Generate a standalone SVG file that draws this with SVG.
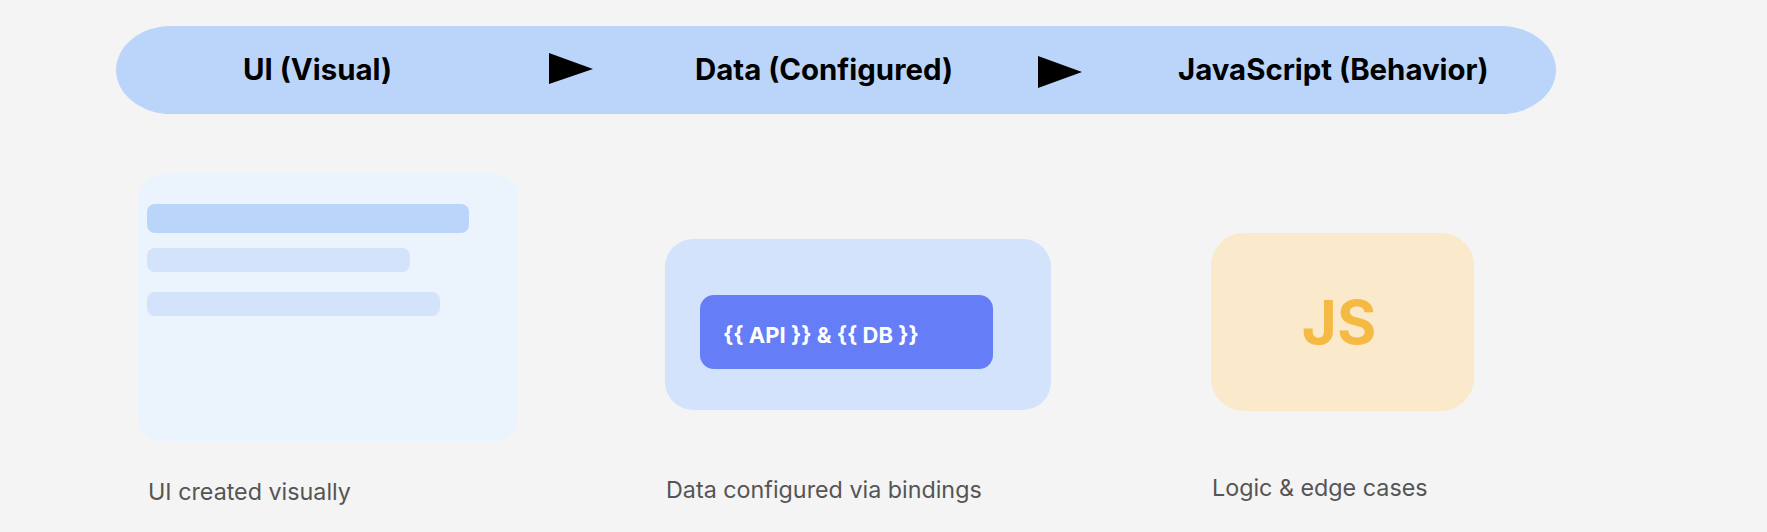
<svg xmlns="http://www.w3.org/2000/svg" width="1767" height="532" viewBox="0 0 1767 532">
<style>
.h{font-family:Inter,"Liberation Sans",Arial,sans-serif;font-weight:700;font-size:29.4px;fill:#000}
.cap{font-family:Inter,"Liberation Sans",Arial,sans-serif;font-size:23.3px;fill:#555}
.arrow{fill:#000}
</style>
<rect width="1767" height="532" fill="#F4F4F4"/>
<g id="banner">
<rect x="116" y="26" width="1440" height="88" rx="55" ry="44" fill="#BBD5FA"/>
<text class="h" x="243" y="80">UI (Visual)</text>
<text class="h" x="695" y="80">Data (Configured)</text>
<text class="h" x="1178" y="80">JavaScript (Behavior)</text>
</g>
<g id="connectors">
<polygon class="arrow" points="549,53 593,69 549,84"/>
<polygon class="arrow" points="1038,56 1082,72 1038,88"/>
</g>
<g id="ui-node">
<rect x="138" y="174" width="380" height="267" rx="24" fill="#EBF3FD"/>
<rect x="147" y="204" width="322" height="29" rx="8" fill="#BBD5FA"/>
<rect x="147" y="248" width="263" height="24" rx="8" fill="#D3E3FB"/>
<rect x="147" y="292" width="293" height="24" rx="8" fill="#D3E3FB"/>
<text class="cap" x="148" y="500">UI created visually</text>
</g>
<g id="data-node">
<rect x="665" y="239" width="386" height="171" rx="28" fill="#D3E3FB"/>
<rect x="700" y="295" width="293" height="74" rx="14" fill="#657EF7"/>
<text x="723" y="343" font-family="Inter,'Liberation Sans',Arial,sans-serif" font-weight="700" font-size="22" fill="#FFFFFF">{{ API }} &amp; {{ DB }}</text>
<text class="cap" x="666" y="498">Data configured via bindings</text>
</g>
<g id="js-node">
<rect x="1211" y="233" width="263" height="178" rx="33" fill="#FAE9CB"/>
<text x="1339" y="344" text-anchor="middle" font-family="Inter,'Liberation Sans',Arial,sans-serif" font-weight="700" font-size="60" fill="#F5BA43">JS</text>
<text class="cap" x="1212" y="496">Logic &amp; edge cases</text>
</g>
</svg>
